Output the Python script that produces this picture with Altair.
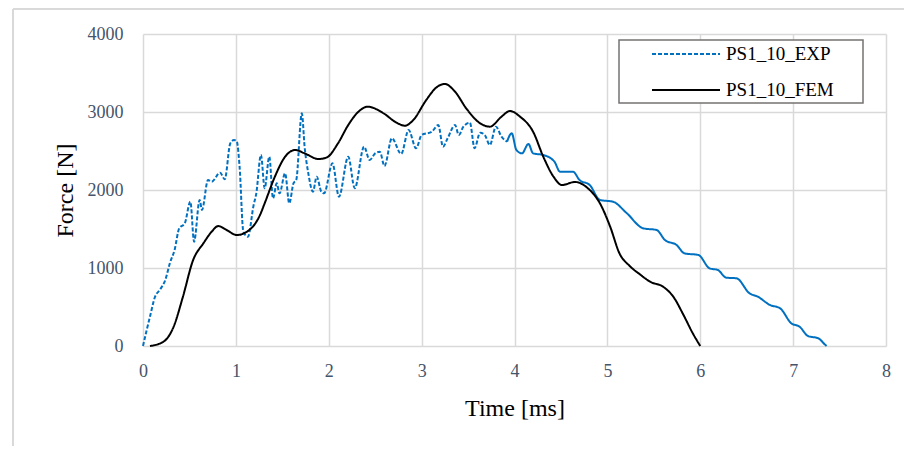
import altair as alt
import pandas as pd

# ---- data ----
series = ["PS1_10_EXP", "PS1_10_FEM"]

exp_t = [0.00, 0.04, 0.075, 0.13, 0.18, 0.24, 0.29, 0.34, 0.39, 0.45, 0.51, 0.55, 0.61, 0.635,
         0.70, 0.74, 0.83, 0.88, 0.94, 0.98, 1.01, 1.04, 1.08, 1.13, 1.19, 1.22, 1.27, 1.31,
         1.36, 1.40, 1.44, 1.47, 1.53, 1.575, 1.62, 1.65, 1.71, 1.74, 1.78, 1.83, 1.87, 1.92,
         1.95, 2.04, 2.11, 2.21, 2.28, 2.38, 2.44, 2.50, 2.55, 2.60, 2.68, 2.78, 2.86, 2.94,
         3.00, 3.11, 3.18, 3.23, 3.28, 3.36, 3.40, 3.45, 3.52, 3.57, 3.63, 3.68, 3.735, 3.80,
         3.86, 3.92, 3.97, 4.02, 4.08, 4.15, 4.20, 4.31, 4.43, 4.49, 4.63, 4.70, 4.81, 4.92,
         5.06, 5.21, 5.385, 5.53, 5.62, 5.745, 5.83, 5.98, 6.10, 6.19, 6.28, 6.39, 6.53, 6.62,
         6.75, 6.86, 6.98, 7.07, 7.16, 7.27, 7.34, 7.36]
exp_f = [0, 205, 376, 632, 718, 846, 1064, 1231, 1509, 1573, 1850, 1337, 1872, 1744,
         2128, 2107, 2222, 2137, 2599, 2640, 2620, 2300, 1470, 1400, 1800, 1957, 2449, 2022,
         2427, 1893, 2085, 1957, 2214, 1829, 2085, 2128, 2983, 2555, 2214, 1978, 2171, 1978,
         1957, 2342, 1914, 2427, 2022, 2555, 2385, 2470, 2491, 2308, 2663, 2462, 2769, 2535,
         2705, 2747, 2833, 2555, 2663, 2833, 2705, 2812, 2863, 2535, 2735, 2705, 2577, 2812,
         2684, 2620, 2727, 2513, 2470, 2590, 2470, 2449, 2363, 2235, 2235, 2128, 2064, 1872,
         1850, 1701, 1509, 1487, 1359, 1295, 1188, 1167, 996, 974, 876, 868, 676, 632,
         526, 483, 291, 247, 128, 99, 22, 0]

fem_t = [0.075, 0.22, 0.33, 0.43, 0.54, 0.65, 0.74, 0.81, 0.90, 1.01, 1.12, 1.26, 1.31, 1.42,
         1.53, 1.64, 1.74, 1.89, 1.98, 2.10, 2.21, 2.32, 2.42, 2.59, 2.73, 2.82, 2.91, 3.05,
         3.16, 3.25, 3.36, 3.48, 3.63, 3.735, 3.86, 3.95, 4.06, 4.20, 4.31, 4.42, 4.51, 4.65,
         4.79, 4.92, 5.03, 5.13, 5.24, 5.35, 5.46, 5.60, 5.71, 5.82, 5.92, 6.00]
fem_f = [0, 55, 248, 632, 1103, 1316, 1466, 1538, 1487, 1423, 1466, 1680, 1829, 2171,
         2427, 2513, 2470, 2397, 2419, 2599, 2833, 3004, 3068, 2983, 2863, 2824, 2897, 3154,
         3316, 3359, 3260, 3047, 2855, 2812, 2940, 3013, 2940, 2748, 2427, 2171, 2064, 2103,
         2022, 1829, 1530, 1188, 1026, 919, 824, 760, 632, 397, 162, 0]

x_ticks = [0, 1, 2, 3, 4, 5, 6, 7, 8]
y_ticks = [0, 1000, 2000, 3000, 4000]

# ---- styling ----
FONT = "Liberation Serif"
GRID = "#d9d9d9"
LABEL_COLOR = "#44546A"
W, H = 743, 312
SOLID_FROM = 3.9  # the dense experimental trace renders as solid from here on

df_exp = pd.DataFrame({"t": exp_t, "f": exp_f, "s": series[0]})
df_fem = pd.DataFrame({"t": fem_t, "f": fem_f, "s": series[1]})
df_exp_dash = df_exp[df_exp["t"] <= SOLID_FROM + 0.05]
df_exp_solid = df_exp[df_exp["t"] >= SOLID_FROM]

color_scale = alt.Scale(domain=series, range=["#0070C0", "#000000"])
dash_scale = alt.Scale(domain=series, range=[[4, 2], [1, 0]])

x_enc = alt.X("t:Q", scale=alt.Scale(domain=[0, 8], nice=False),
              axis=alt.Axis(values=x_ticks, format="d", grid=True, gridColor=GRID, gridWidth=1.5,
                            domain=False, ticks=False, labelPadding=16, labelFont=FONT,
                            labelFontSize=18, labelColor=LABEL_COLOR, labelFlush=False,
                            title="Time [ms]", titleFont=FONT, titleFontSize=24,
                            titleFontWeight="normal", titleColor="black", titlePadding=16))
y_enc = alt.Y("f:Q", scale=alt.Scale(domain=[0, 4000], nice=False),
              axis=alt.Axis(values=y_ticks, format="d", grid=True, gridColor=GRID, gridWidth=1.5,
                            domain=False, ticks=False, labelPadding=20, labelFont=FONT,
                            labelFontSize=18, labelColor=LABEL_COLOR, labelFlush=False,
                            title="Force [N]", titleFont=FONT, titleFontSize=24,
                            titleFontWeight="normal", titleColor="black", titlePadding=10))

legend = alt.Legend(orient="none", legendX=532, legendY=9, title=None,
                    symbolType="M-3.4,0H3.4", symbolSize=400, symbolStrokeWidth=2,
                    labelFont=FONT, labelFontSize=19, labelColor="black",
                    labelOffset=29, rowPadding=15, padding=0, symbolOffset=0,
                    direction="vertical")

color_enc = alt.Color("s:N", scale=color_scale, legend=legend)
dash_enc = alt.StrokeDash("s:N", scale=dash_scale, legend=legend)

exp_dash = alt.Chart(df_exp_dash).mark_line(strokeWidth=2, interpolate="monotone").encode(
    x=x_enc, y=y_enc, color=color_enc, strokeDash=dash_enc)
exp_solid = alt.Chart(df_exp_solid).mark_line(strokeWidth=2, strokeDash=[1, 0],
                                              interpolate="monotone").encode(
    x="t:Q", y="f:Q", color=alt.Color("s:N", scale=color_scale, legend=None))
fem_line = alt.Chart(df_fem).mark_line(strokeWidth=2, interpolate="monotone").encode(
    x="t:Q", y="f:Q", color=color_enc, strokeDash=dash_enc)

one = pd.DataFrame({"d": [0]})
legend_box = alt.Chart(one).mark_rect(fill="white", stroke="#767171", strokeWidth=1.5).encode(
    x=alt.value(476), x2=alt.value(720), y=alt.value(6), y2=alt.value(69))
frame_left = alt.Chart(one).mark_rule(color=GRID, strokeWidth=2).encode(
    x=alt.value(-130), y=alt.value(-25), y2=alt.value(430))
frame_top = alt.Chart(one).mark_rule(color=GRID, strokeWidth=2).encode(
    x=alt.value(-130), x2=alt.value(775), y=alt.value(-25))

chart = alt.layer(frame_left, frame_top, exp_dash, exp_solid, fem_line, legend_box).resolve_scale(
    color="shared", strokeDash="shared"
).properties(
    width=W, height=H,
    padding={"left": 135, "top": 26, "right": 18, "bottom": 100},
    autosize=alt.AutoSizeParams(type="none"),
    background="white",
).configure_view(stroke=None)

chart.save("out.html", embed_options={"renderer": "svg", "actions": False})
